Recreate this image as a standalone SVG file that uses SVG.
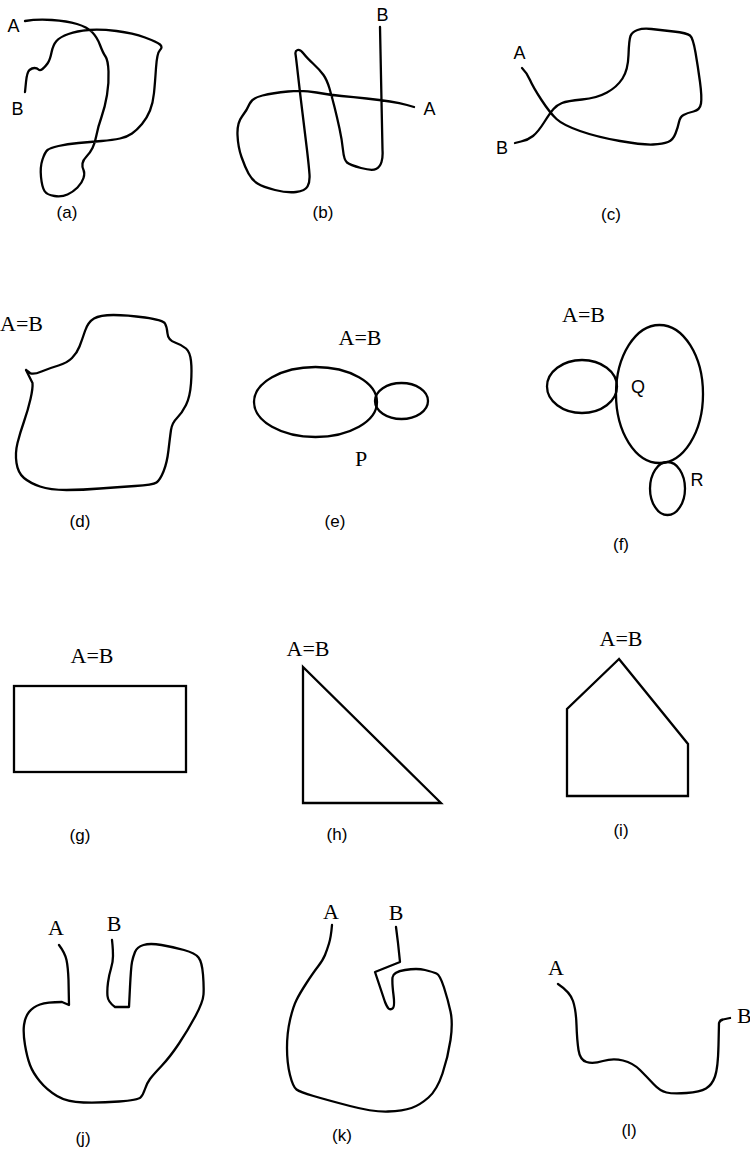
<svg xmlns="http://www.w3.org/2000/svg" width="750" height="1149" viewBox="0 0 750 1149">
<style>
.s{fill:none;stroke:#000;stroke-width:2.3;stroke-linejoin:round;stroke-linecap:round}
.r{fill:none;stroke:#000;stroke-width:2.3;stroke-linejoin:miter}
.sa{font-family:"Liberation Sans",Arial,sans-serif;font-size:18px;fill:#000;text-anchor:middle}
.cap{font-family:"Liberation Sans",Arial,sans-serif;font-size:17px;fill:#000;text-anchor:middle}
.se{font-family:"Liberation Serif","Times New Roman",serif;font-size:22px;fill:#000;text-anchor:middle}
</style>
<rect width="750" height="1149" fill="#fff"/>
<g id="panel-a">
<path class="s" d="M25,21 Q37,19 52,20 Q67,21 77,24 Q87,27 92,32 Q97,37 100,45 Q103,53 105.5,56.5 Q108,60 108.5,71.5 Q109,83 107,95 Q105,107 101.5,117 Q98,127 96.5,135 Q95,143 92.5,148 Q90,153 86.5,156.5 Q83,160 82.5,163.5 Q82,167 83.5,170 Q85,173 83.5,178 Q82,183 77.5,187.5 Q73,192 67.5,194.5 Q62,197 54.5,196 Q47,195 44.5,191 Q42,187 41,177 Q40,167 42.5,159.5 Q45,152 47.5,150 Q50,148 58.5,146 Q67,144 78.5,143 Q90,142 101.5,141 Q113,140 120,138.5 Q127,137 132,133.5 Q137,130 142,124 Q147,118 150,110.5 Q153,103 154,93 Q155,83 156,68 Q157,53 160,50 Q163,47 160,44.5 Q157,42 145,37.5 Q133,33 116.5,31 Q100,29 88.5,30 Q77,31 68.5,34 Q60,37 56.5,41 Q53,45 51.5,52.5 Q50,60 47.5,63.5 Q45,67 42.5,69 Q40,71 38.5,69.5 Q37,68 34.5,68 Q32,68 29.5,70 Q27,72 26,82 L25,92"/>
<text class="sa" x="13.5" y="32">A</text>
<text class="sa" x="17.5" y="115">B</text>
<text class="cap" x="67" y="217.5">(a)</text>
</g>
<g id="panel-b">
<path class="s" d="M380,27 L382.5,150 Q383,157 381.5,162 Q380,167 376,169 Q372,171 361,168 Q350,165 347,162.5 Q344,160 343,150 Q342,140 339.5,128.5 Q337,117 334.5,107 Q332,97 329.5,88.5 Q327,80 323.5,75 Q320,70 313.5,64 Q307,58 303.5,53.5 Q300,49 297.5,50 Q295,51 295.5,54 Q296,57 298,75 Q300,93 302.5,113 Q305,133 307,150 Q309,167 309.5,174.5 Q310,182 307.5,186.5 Q305,191 296,192 Q287,193 275,190 Q263,187 257.5,183.5 Q252,180 248.5,173.5 Q245,167 241.5,157 Q238,147 237.5,135 Q237,123 242,116.5 Q247,110 249.5,104 Q252,98 262.5,95.5 Q273,93 288,91.5 Q303,90 316.5,92.5 Q330,95 341.5,96 Q353,97 366.5,98.5 Q380,100 390,101.5 Q400,103 407,105 L414,107"/>
<text class="sa" x="382.5" y="21">B</text>
<text class="sa" x="429.5" y="115">A</text>
<text class="cap" x="323" y="217.5">(b)</text>
</g>
<g id="panel-c">
<path class="s" d="M522,68 Q527,73 530,80 Q533,87 541.5,100 Q550,113 556.5,119 Q563,125 580,131 Q597,137 620,141 Q643,145 653,144.5 Q663,144 668,142 Q673,140 675.5,133.5 Q678,127 679,122 Q680,117 683.5,115 Q687,113 693.5,111.5 Q700,110 701,103.5 Q702,97 700,82 Q698,67 695.5,52.5 Q693,38 690,35.5 Q687,33 673.5,31.5 Q660,30 651.5,29 Q643,28 637.5,30 Q632,32 630.5,36 Q629,40 628.5,55 Q628,70 622.5,78.5 Q617,87 607,92.5 Q597,98 582,99.5 Q567,101 562,103 Q557,105 553.5,109 Q550,113 544,122.5 Q538,132 533,136 Q528,140 521,141.5 L515,143"/>
<text class="sa" x="519.5" y="59">A</text>
<text class="sa" x="502" y="154">B</text>
<text class="cap" x="611" y="220">(c)</text>
</g>
<g id="panel-d">
<path class="s" d="M26,370 L30,373 Q33,375 41.5,371.5 Q50,368 58.5,365.5 Q67,363 72,358 Q77,353 79.5,346.5 Q82,340 85,331 Q88,322 94,318.5 Q100,315 113.5,315 Q127,315 145,317.5 Q163,320 165,323.5 Q167,327 167.5,333.5 Q168,340 175,342.5 Q182,345 186,348.5 Q190,352 191,361 Q192,370 191,383.5 Q190,397 186,405 Q182,413 177,418 Q172,423 171,430 Q170,437 168.5,450 Q167,463 163.5,471.5 Q160,480 156.5,482.5 Q153,485 135,486 Q117,487 100,488.5 Q83,490 66.5,490 Q50,490 40,486.5 Q30,483 24,478 Q18,473 16.5,463 Q15,453 17.5,443 Q20,433 24,421.5 Q28,410 30.5,399 Q33,388 32.5,383 L26,370"/>
<text class="se" x="21.5" y="331">A=B</text>
<text class="cap" x="80" y="527">(d)</text>
</g>
<g id="panel-e">
<ellipse class="s" cx="315.5" cy="402" rx="61.5" ry="35"/>
<ellipse class="s" cx="401.5" cy="401" rx="26.5" ry="18"/>
<text class="se" x="360" y="345">A=B</text>
<text class="se" x="361" y="466">P</text>
<text class="cap" x="335" y="527">(e)</text>
</g>
<g id="panel-f">
<ellipse class="s" cx="582" cy="386.5" rx="35" ry="26.5"/>
<ellipse class="s" cx="659.5" cy="394" rx="43.5" ry="69"/>
<ellipse class="s" cx="667.5" cy="488.5" rx="17.5" ry="26.5"/>
<text class="se" x="583.5" y="322">A=B</text>
<text class="sa" x="638" y="393">Q</text>
<text class="sa" x="697" y="486">R</text>
<text class="cap" x="621" y="550">(f)</text>
</g>
<g id="panel-g">
<rect class="r" x="14" y="686" width="172" height="86"/>
<text class="se" x="92" y="663">A=B</text>
<text class="cap" x="80" y="841">(g)</text>
</g>
<g id="panel-h">
<polygon class="r" points="303,667 303,803 441,803"/>
<text class="se" x="308" y="656">A=B</text>
<text class="cap" x="337" y="840">(h)</text>
</g>
<g id="panel-i">
<polygon class="r" points="619,659 567,709 567,796 688,796 688,744"/>
<text class="se" x="621" y="646">A=B</text>
<text class="cap" x="621" y="836">(i)</text>
</g>
<g id="panel-j">
<path class="s" d="M59,945 Q65,953 66.5,960 Q68,967 68.5,980 L69,1005 L62,1002 Q47,1002 40,1004.5 Q33,1007 29,1012 Q25,1017 24,1025 Q23,1033 25,1045 Q27,1057 30,1065 Q33,1073 40,1081.5 Q47,1090 57,1096 Q67,1102 83.5,1102.5 Q100,1103 119,1101.5 Q138,1100 140.5,1097.5 Q143,1095 145,1089 Q147,1083 150,1079 Q153,1075 161.5,1066 Q170,1057 179,1043.5 Q188,1030 195.5,1016 Q203,1002 203.5,994.5 Q204,987 203,974.5 Q202,962 198.5,957.5 Q195,953 184,950 Q173,947 161.5,945 Q150,943 143.5,945 Q137,947 135,952 Q133,957 132,962 Q131,967 130,987 L129,1007 L115,1007 Q108,1002 107.5,996 Q107,990 108,982.5 Q109,975 111,968.5 Q113,962 113,956 Q113,950 112.5,945 L112,940"/>
<text class="se" x="56" y="935">A</text>
<text class="se" x="114" y="931">B</text>
<text class="cap" x="83" y="1144">(j)</text>
</g>
<g id="panel-k">
<path class="s" d="M332,925 Q331,937 329,943.5 Q327,950 325,955 Q323,960 318,966.5 Q313,973 306.5,983 Q300,993 296.5,1000 Q293,1007 290,1020 Q287,1033 287,1048 Q287,1063 290,1075 Q293,1087 296.5,1089.5 Q300,1092 313.5,1096 Q327,1100 350,1106 Q373,1112 388,1111.5 Q403,1111 411.5,1108 Q420,1105 428.5,1097.5 Q437,1090 442.5,1073.5 Q448,1057 450.5,1040 Q453,1023 450.5,1011.5 Q448,1000 444,987.5 Q440,975 436.5,973.5 Q433,972 425,970 Q417,968 405,970 Q393,972 392.5,977.5 Q392,983 393.5,995 Q395,1007 392.5,1008.5 Q390,1010 388.5,1008.5 Q387,1007 385,1002 L375,972 L400,962 L398,943 L396,927"/>
<text class="se" x="331" y="919">A</text>
<text class="se" x="396" y="920">B</text>
<text class="cap" x="342" y="1141">(k)</text>
</g>
<g id="panel-l">
<path class="s" d="M558,984 Q570,992 573,1001 Q576,1010 576.5,1025 Q577,1040 578.5,1050 Q580,1060 586.5,1062 Q593,1064 603,1061 Q613,1058 623,1060.5 Q633,1063 640,1070 Q647,1077 653.5,1084 Q660,1091 666.5,1092.5 Q673,1094 686.5,1093 Q700,1092 706,1088.5 Q712,1085 715,1076.5 Q718,1068 718.5,1045 L719,1023 Q720,1020 723,1019.5 L730,1018"/>
<text class="se" x="556" y="975">A</text>
<text class="se" x="737" y="1023" style="text-anchor:start">B</text>
<text class="cap" x="629" y="1136">(l)</text>
</g>
</svg>
